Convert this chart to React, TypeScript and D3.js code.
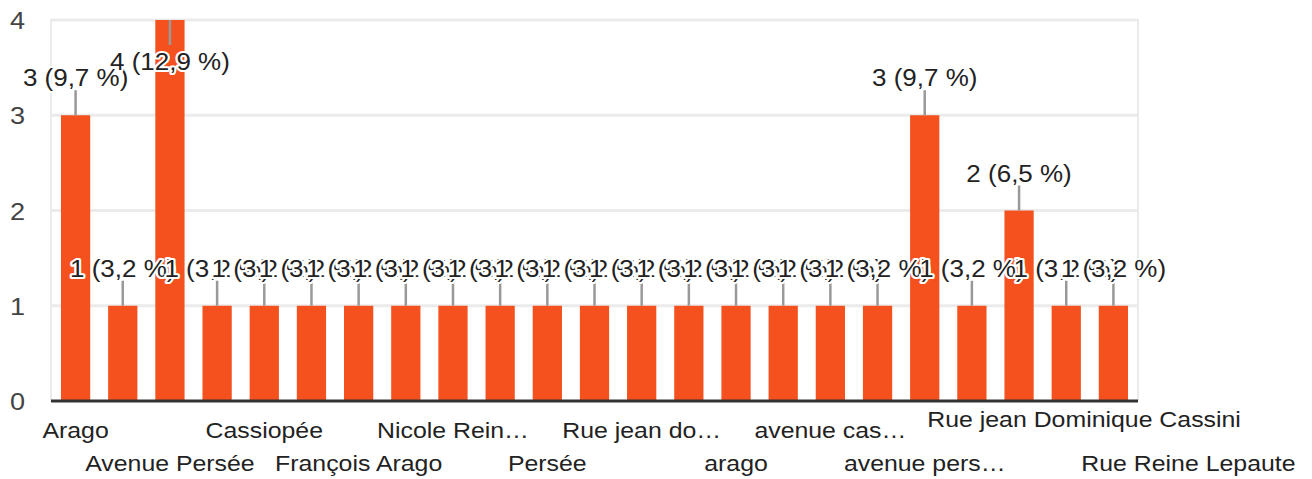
import React, { useMemo } from 'react';
import * as d3 from 'd3';

// answers as shown on the axis ("" = label hidden by the chart)
const categories = [
  'Arago', '', 'Avenue Persée', '', 'Cassiopée', '', 'François Arago', '',
  'Nicole Rein…', '', 'Persée', '', 'Rue jean do…', '', 'arago', '',
  'avenue cas…', '', 'avenue pers…', '', 'Rue jean Dominique Cassini', '',
  'Rue Reine Lepaute',
];
const counts = [3, 1, 4, 1, 1, 1, 1, 1, 1, 1, 1, 1, 1, 1, 1, 1, 1, 1, 3, 1, 2, 1, 1];
const yTicks = [0, 1, 2, 3, 4];

const W = 1312;
const H = 479;
const left = 52;
const right = 1137;
const top = 20;
const bottom = 401;

const FONT = '"Liberation Sans", Arial, sans-serif';
const SX = 1.13; // text in the picture is a bit wider than tall
const BAR = '#f4511e';

// labels the chart moved off their slot
const nudge: Record<number, { dx: number; dy: number }> = {
  20: { dx: 65, dy: -11 },
  22: { dx: 75, dy: 0 },
};

const fmt = (n: number, total: number) =>
  `${n} (${(Math.round((n / total) * 1000) / 10).toFixed(1).replace('.', ',')} %)`;

const Txt: React.FC<{
  x: number; y: number; size: number; anchor?: string; fill?: string; halo?: boolean; children: string;
}> = ({ x, y, size, anchor = 'middle', fill = '#222', halo = false, children }) => (
  <text
    transform={`translate(${x},${y}) scale(${SX},1)`}
    textAnchor={anchor}
    fontFamily={FONT}
    fontSize={size}
    fill={fill}
    stroke={halo ? '#fff' : 'none'}
    strokeWidth={halo ? 4 : 0}
    strokeLinejoin="round"
    paintOrder="stroke"
  >
    {children}
  </text>
);

export default function App() {
  const total = d3.sum(counts);
  const idx = categories.map((_, i) => String(i));

  const x = useMemo(
    () => d3.scaleBand().domain(idx).range([left, right]).paddingInner(0.38).paddingOuter(0.19),
    []
  );
  const y = useMemo(() => d3.scaleLinear().domain([0, 4]).range([bottom, top]), []);
  const yMax = d3.max(counts) || 0;

  return (
    <svg width={W} height={H} style={{ position: 'absolute', left: 0, top: 0, background: '#fff' }}>
      {/* grid */}
      {yTicks.slice(1).map(t => (
        <line key={t} x1={left - 1} x2={right + 1} y1={y(t)} y2={y(t)} stroke="#ebebeb" strokeWidth={3} />
      ))}
      <line x1={left - 1} x2={left - 1} y1={top - 1} y2={bottom} stroke="#ebebeb" strokeWidth={2} />
      <line x1={right + 1} x2={right + 1} y1={top - 1} y2={bottom} stroke="#ebebeb" strokeWidth={2} />

      {yTicks.map(t => (
        <Txt key={t} x={25} y={y(t) + 9} size={24} anchor="end" fill="#444">{String(t)}</Txt>
      ))}

      {/* bars */}
      {counts.map((c, i) => (
        <rect key={i} x={x(String(i))} y={y(c)} width={x.bandwidth()} height={y(0) - y(c)} fill={BAR} />
      ))}

      <line x1={left - 1} x2={right + 1} y1={bottom} y2={bottom} stroke="#333" strokeWidth={3} />

      {/* leader lines */}
      {counts.map((c, i) => {
        const cx = (x(String(i)) || 0) + x.bandwidth() / 2;
        const inside = c === yMax;
        const y0 = y(c);
        return (
          <line key={i} x1={cx} x2={cx} y1={inside ? y0 : y0 - 25} y2={inside ? y0 + 25 : y0}
            stroke="#999" strokeWidth={2.5} />
        );
      })}

      {/* value labels, later ones drawn over earlier ones */}
      {counts.map((c, i) => {
        const cx = (x(String(i)) || 0) + x.bandwidth() / 2;
        const inside = c === yMax;
        const ty = inside ? y(c) + 50 : y(c) - 29;
        return <Txt key={i} x={cx} y={ty} size={23} halo>{fmt(c, total)}</Txt>;
      })}

      {/* category labels, two staggered rows */}
      {categories.map((name, i) => {
        if (!name) return null;
        const cx = (x(String(i)) || 0) + x.bandwidth() / 2;
        const row = i % 4 === 0 ? 438 : 471;
        const n = nudge[i] || { dx: 0, dy: 0 };
        return <Txt key={i} x={cx + n.dx} y={row + n.dy} size={22}>{name}</Txt>;
      })}
    </svg>
  );
}
